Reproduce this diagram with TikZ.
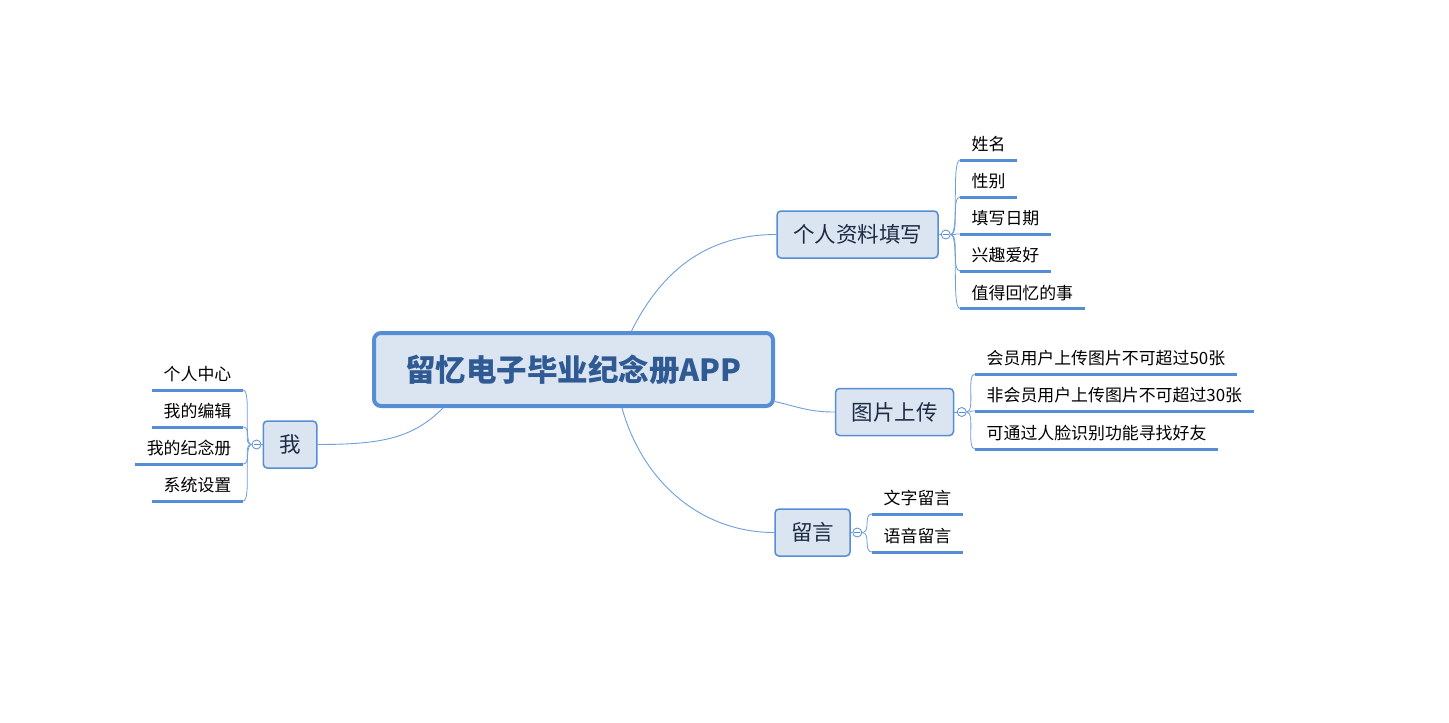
\documentclass[tikz,border=0pt]{standalone}
\usepackage{fontspec}
\setmainfont{Noto Sans CJK SC}
\usetikzlibrary{calc}

\definecolor{edgeblue}{HTML}{558ED5}
\definecolor{boxfill}{HTML}{DBE5F1}
\definecolor{titletext}{HTML}{2F5A93}
\definecolor{branchtext}{HTML}{1E2B45}
\definecolor{linkblue}{HTML}{6F9FDA}

\tikzset{
  rootbox/.style={draw=edgeblue, line width=4pt, fill=boxfill, rounded corners=7pt,
    minimum width=399pt, minimum height=73pt, text=titletext,
    font=\fontsize{30.5pt}{34pt}\selectfont\bfseries},
  branchbox/.style={draw=edgeblue, line width=1.5pt, fill=boxfill, rounded corners=4pt,
    minimum height=47pt, inner xsep=16pt, text=branchtext,
    font=\fontsize{21.5pt}{25pt}\selectfont},
  foldmark/.style={circle, draw=edgeblue, fill=white, line width=0.8pt,
    minimum size=9pt, inner sep=0pt,
    path picture={\draw[edgeblue, line width=0.6pt]
      ([xshift=-3pt]path picture bounding box.center) --
      ([xshift=3pt]path picture bounding box.center);}},
  leafr/.style={anchor=south west, inner xsep=11.5pt, inner ysep=9pt,
    text depth=0pt, text height=12pt, text=black,
    font=\fontsize{16.9pt}{20pt}\selectfont},
  leafl/.style={leafr, anchor=south east},
  link/.style={draw=linkblue, line width=0.9pt},
  bracket/.style={draw=linkblue, line width=0.8pt},
  uline/.style={draw=edgeblue, line width=3pt},
}

\begin{document}
\begin{tikzpicture}[x=1pt,y=-1pt]
  \path[use as bounding box, fill=white] (0,0) rectangle (1449,723);

  % central topic and main branches
  \node[rootbox] (root) at (573.5,369.5) {留忆电子毕业纪念册APP};
  \node[branchbox] (info)  at (857.5,234.5) {个人资料填写};
  \node[branchbox] (photo) at (894.5,412)   {图片上传};
  \node[branchbox] (msg)   at (812.5,532.5) {留言};
  \node[branchbox] (me)    at (290,444.5)   {我};

  % links from the central topic
  \coordinate (r-info)  at ($(root.north)+(58,0)$);
  \coordinate (r-photo) at ($(root.east)+(0,32)$);
  \coordinate (r-msg)   at ($(root.south)+(48.5,0)$);
  \coordinate (r-me)    at ($(root.south)+(-130.5,0)$);
  \draw[link] (r-info)  .. controls +(30,-60) and +(-70,0) .. (info.west);
  \draw[link] (r-photo) .. controls +(25,6) and +(-25,0) .. (photo.west);
  \draw[link] (r-msg)   .. controls +(20,72) and +(-75,0) .. (msg.west);
  \draw[link] (r-me)    .. controls +(-30,30) and +(65,0) .. (me.east);

  % fold marks
  \node[foldmark] (f-info)  at ($(info.east)+(7,0)$) {};
  \node[foldmark] (f-photo) at ($(photo.east)+(7.5,0)$) {};
  \node[foldmark] (f-msg)   at ($(msg.east)+(6.5,0)$) {};
  \node[foldmark] (f-me)    at ($(me.west)+(-6,0)$) {};
  \draw[link] (info.east) -- (f-info.west);
  \draw[link] (photo.east) -- (f-photo.west);
  \draw[link] (msg.east) -- (f-msg.west);
  \draw[link] (me.west) -- (f-me.east);

  % 个人资料填写
  \node[leafr] (i1) at (960,160) {姓名};
  \node[leafr] (i2) at (960,197) {性别};
  \node[leafr] (i3) at (960,234) {填写日期};
  \node[leafr] (i4) at (960,271) {兴趣爱好};
  \node[leafr] (i5) at (960,308.5) {值得回忆的事};
  \foreach \n in {i1,i2,i3,i4,i5} {
    \draw[uline] (\n.south west) -- (\n.south east);
    \draw[bracket] (f-info.east) .. controls +(9,0) and +(-9,0) .. (\n.south west);
  }

  % 图片上传
  \node[leafr] (p1) at (975,374) {会员用户上传图片不可超过50张};
  \node[leafr] (p2) at (975,411) {非会员用户上传图片不可超过30张};
  \node[leafr] (p3) at (975,449) {可通过人脸识别功能寻找好友};
  \foreach \n in {p1,p2,p3} {
    \draw[uline] (\n.south west) -- (\n.south east);
    \draw[bracket] (f-photo.east) .. controls +(9,0) and +(-9,0) .. (\n.south west);
  }

  % 留言
  \node[leafr] (m1) at (872,514) {文字留言};
  \node[leafr] (m2) at (872,552) {语音留言};
  \foreach \n in {m1,m2} {
    \draw[uline] (\n.south west) -- (\n.south east);
    \draw[bracket] (f-msg.east) .. controls +(9,0) and +(-9,0) .. (\n.south west);
  }

  % 我
  \node[leafl] (e1) at (243,390) {个人中心};
  \node[leafl] (e2) at (243,427) {我的编辑};
  \node[leafl] (e3) at (243,464) {我的纪念册};
  \node[leafl] (e4) at (243,501) {系统设置};
  \foreach \n in {e1,e2,e3,e4} {
    \draw[uline] (\n.south east) -- (\n.south west);
    \draw[bracket] (f-me.west) .. controls +(-9,0) and +(9,0) .. (\n.south east);
  }
\end{tikzpicture}
\end{document}
